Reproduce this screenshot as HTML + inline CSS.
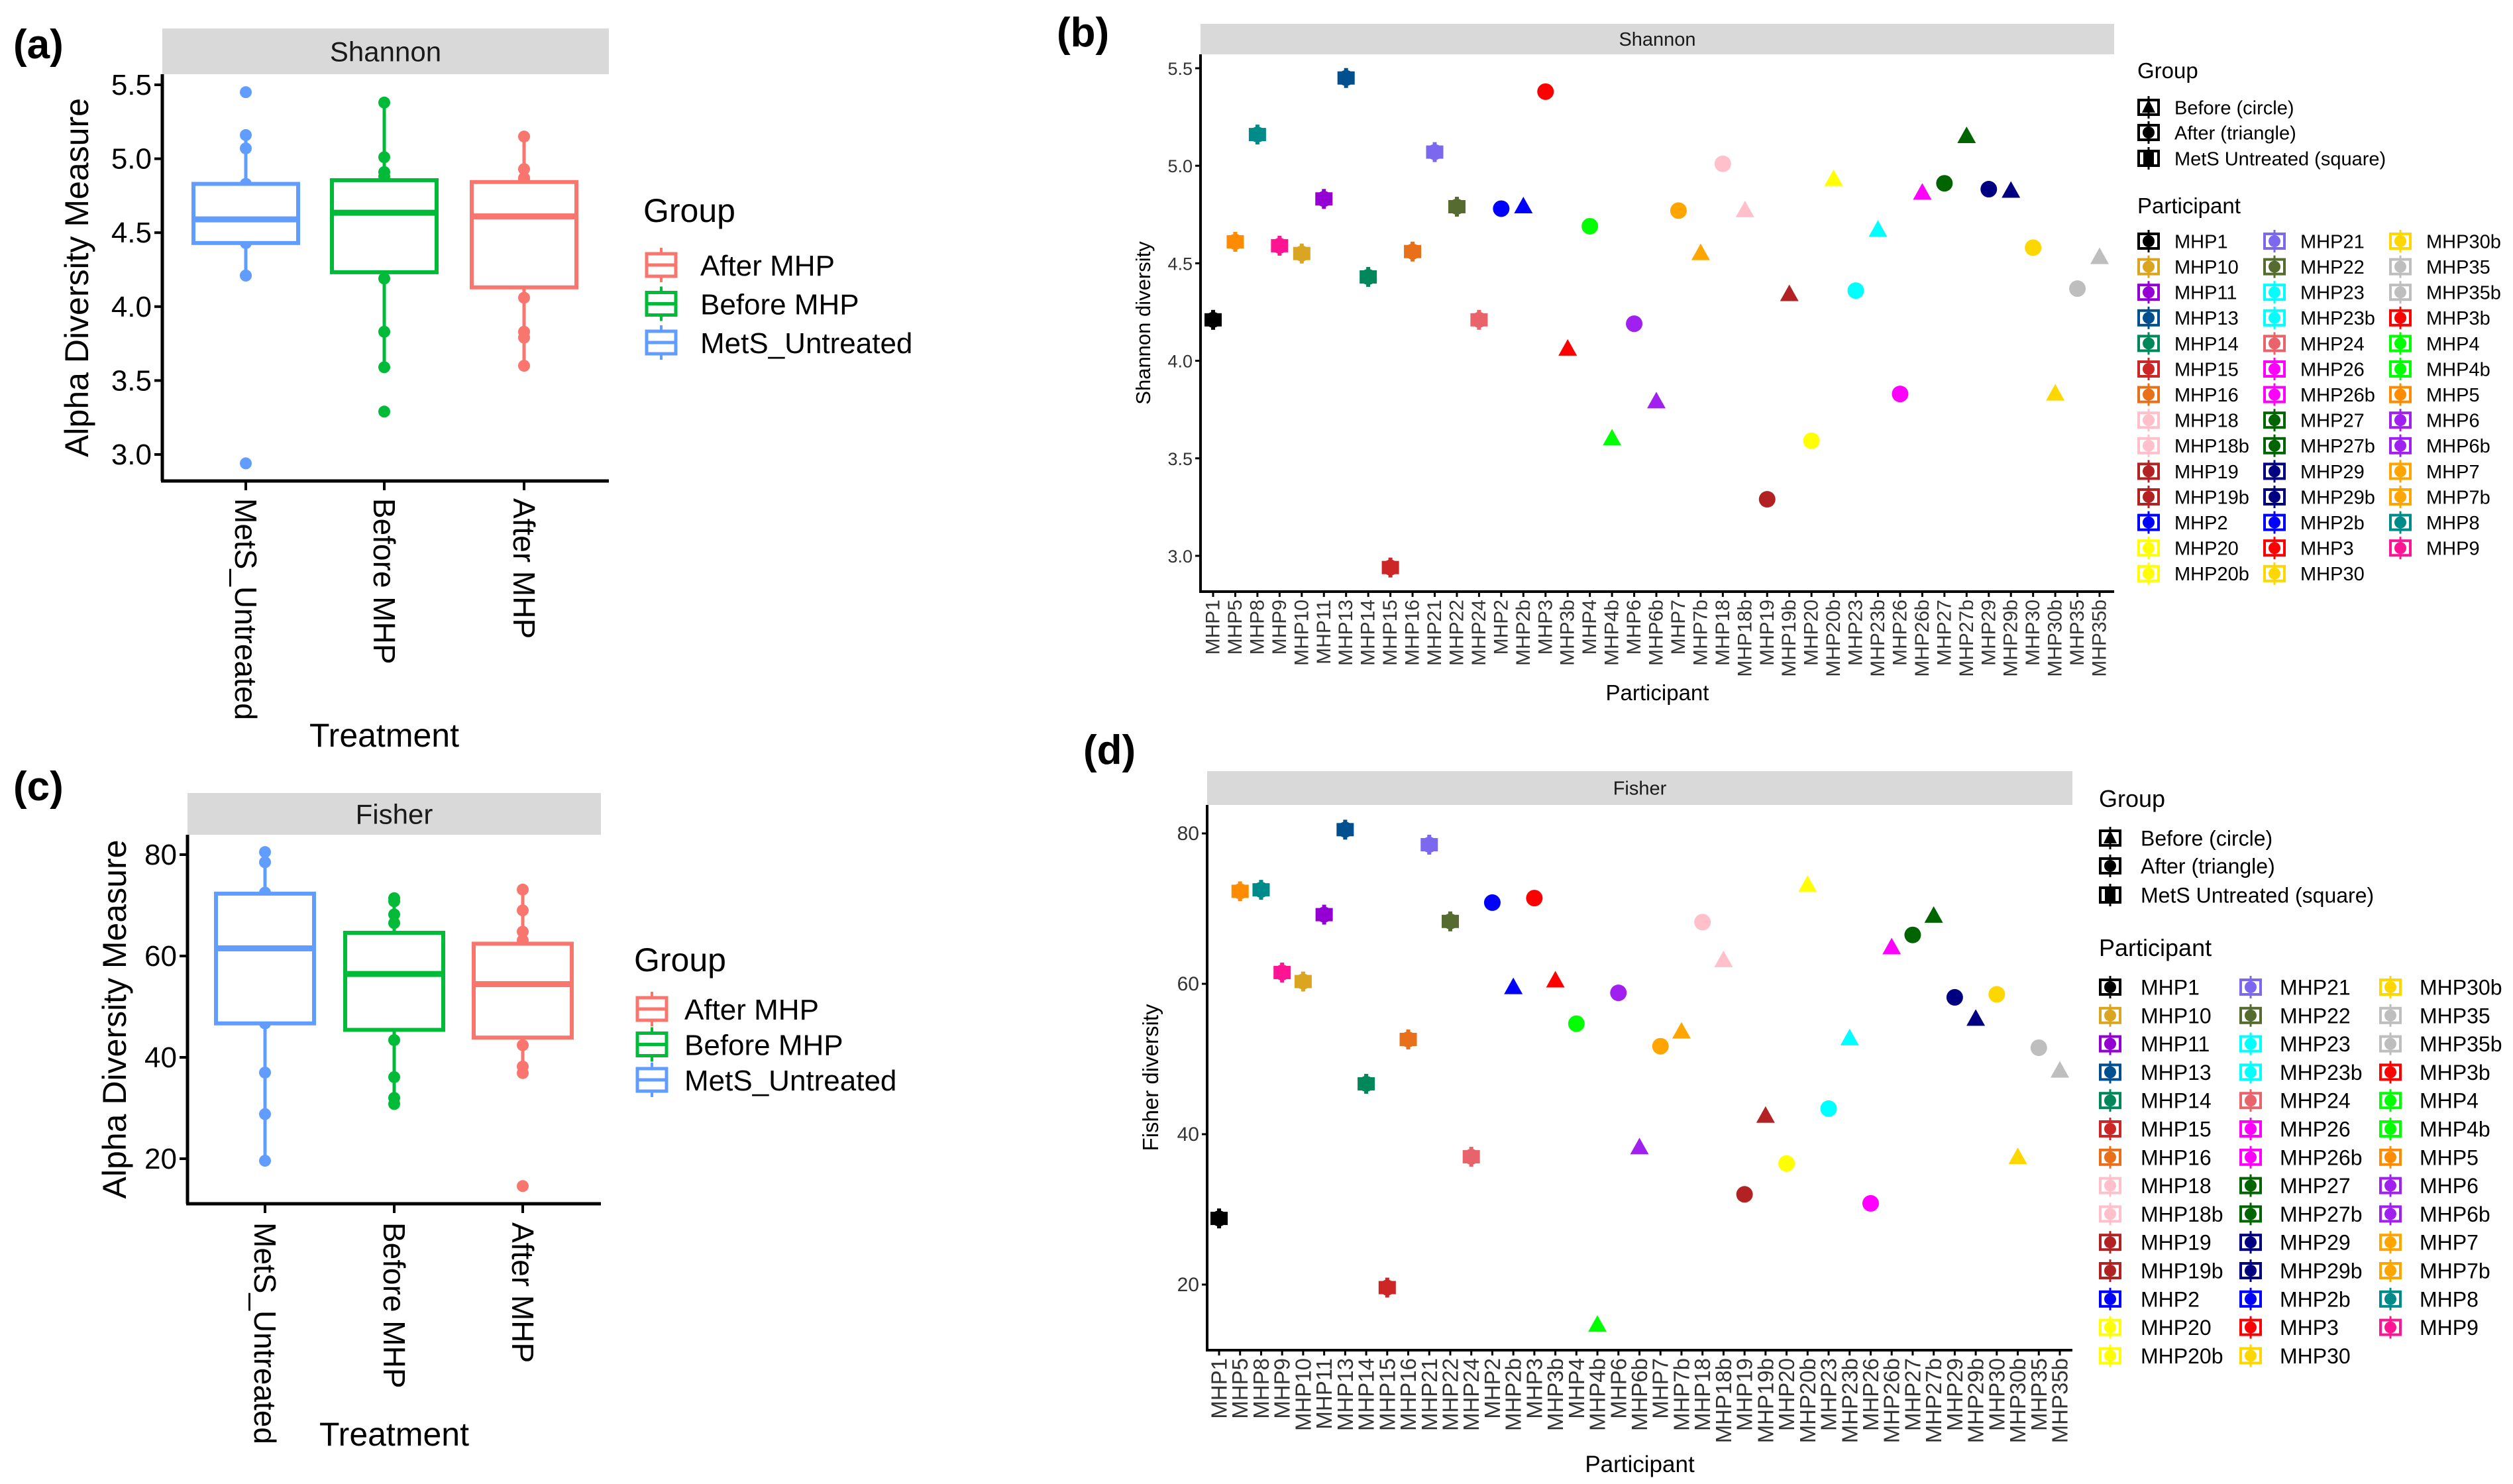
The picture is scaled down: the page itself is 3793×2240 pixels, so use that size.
<!DOCTYPE html>
<html><head><meta charset="utf-8"><style>
html,body{margin:0;padding:0;background:#fff}
svg{display:block;font-family:"Liberation Sans",Arial,sans-serif}
</style></head><body>
<svg id="fig" xmlns="http://www.w3.org/2000/svg" width="3793" height="2240" viewBox="0 0 3793 2240">
<rect width="3793" height="2240" fill="#fff"/>
</svg>
<script>
const participants = ["MHP1","MHP5","MHP8","MHP9","MHP10","MHP11","MHP13","MHP14","MHP15","MHP16","MHP21","MHP22","MHP24","MHP2","MHP2b","MHP3","MHP3b","MHP4","MHP4b","MHP6","MHP6b","MHP7","MHP7b","MHP18","MHP18b","MHP19","MHP19b","MHP20","MHP20b","MHP23","MHP23b","MHP26","MHP26b","MHP27","MHP27b","MHP29","MHP29b","MHP30","MHP30b","MHP35","MHP35b"];
const shannonValues = [4.21,4.61,5.16,4.59,4.55,4.83,5.45,4.43,2.94,4.56,5.07,4.79,4.21,4.78,4.79,5.38,4.06,4.69,3.60,4.19,3.79,4.77,4.55,5.01,4.77,3.29,4.34,3.59,4.93,4.36,4.67,3.83,4.86,4.91,5.15,4.88,4.87,4.58,3.83,4.37,4.53];
const fisherValues = [28.8,72.3,72.5,61.5,60.3,69.2,80.5,46.7,19.6,52.6,78.5,68.3,37.0,70.8,59.5,71.4,60.4,54.7,14.6,58.8,38.2,51.7,53.6,68.2,63.1,32.0,42.4,36.1,73.1,43.4,52.7,30.8,64.8,66.5,69.0,58.2,55.3,58.6,36.9,51.5,48.4];
const untreatedIds = ["MHP1","MHP5","MHP8","MHP9","MHP10","MHP11","MHP13","MHP14","MHP15","MHP16","MHP21","MHP22","MHP24"];
const boxCategories = ["MetS_Untreated","Before MHP","After MHP"];
const shannonTicks = [3.0,3.5,4.0,4.5,5.0,5.5];
const fisherTicks = [20,40,60,80];
const groupLegendLabels = ["After MHP","Before MHP","MetS_Untreated"];
const shapeLegendLabels = ["Before (circle)","After (triangle)","MetS Untreated (square)"];

const pColors = {MHP1:"#000000",MHP10:"#DAA520",MHP11:"#9400D3",MHP13:"#00508F",MHP14:"#00875A",MHP15:"#CD2626",MHP16:"#E8701A",MHP18:"#FFC0CB",MHP18b:"#FFC0CB",MHP19:"#B22222",MHP19b:"#B22222",MHP2:"#0000FF",MHP20:"#FFFF00",MHP20b:"#FFFF00",MHP21:"#7B68EE",MHP22:"#556B2F",MHP23:"#00FFFF",MHP23b:"#00FFFF",MHP24:"#E9636A",MHP26:"#FF00FF",MHP26b:"#FF00FF",MHP27:"#006400",MHP27b:"#006400",MHP29:"#000080",MHP29b:"#000080",MHP2b:"#0000FF",MHP3:"#FF0000",MHP30:"#FFD700",MHP30b:"#FFD700",MHP35:"#BEBEBE",MHP35b:"#BEBEBE",MHP3b:"#FF0000",MHP4:"#00FF00",MHP4b:"#00FF00",MHP5:"#FF8C00",MHP6:"#A020F0",MHP6b:"#A020F0",MHP7:"#FFA500",MHP7b:"#FFA500",MHP8:"#008B8B",MHP9:"#FF1493"};
const boxColors = {"MetS_Untreated":"#619CFF","Before MHP":"#00BA38","After MHP":"#F8766D"};

const NS="http://www.w3.org/2000/svg";
const svg=document.getElementById('fig');
function el(tag,attrs,parent,txt){const e=document.createElementNS(NS,tag);for(const k in attrs)e.setAttribute(k,attrs[k]);if(txt!==undefined)e.textContent=txt;(parent||svg).appendChild(e);return e;}
function groupOf(p){if(untreatedIds.includes(p))return "MetS_Untreated";return p.endsWith("b")?"After MHP":"Before MHP";}
function lin(d0,d1,r0,r1){return v=>r0+(v-d0)*(r1-r0)/(d1-d0);}
function quant(arr,p){const s=[...arr].sort((a,b)=>a-b);const pos=(s.length-1)*p;const lo=Math.floor(pos),hi=Math.ceil(pos);return s[lo]+(s[hi]-s[lo])*(pos-lo);}

function marker(parent,grp,x,y,color,s){
  s=s||1;
  let m;
  if(grp==="After MHP"){
    m=el('polygon',{points:`${x},${y-15*s} ${x+14*s},${y+10*s} ${x-14*s},${y+10*s}`,fill:color},parent);
  }else if(grp==="Before MHP"){
    m=el('circle',{cx:x,cy:y,r:12.5*s,fill:color},parent);
  }else{
    const g=el('g',{},parent);
    el('rect',{x:x-13*s,y:y-10*s,width:26*s,height:20*s,fill:color},g);
    el('circle',{cx:x,cy:y,r:12*s,fill:color},g);
    el('rect',{x:x-3*s,y:y-15*s,width:6*s,height:30*s,fill:color},g);
    m=g;
  }
  return m;
}

function legendKey(parent,x,y,color,inner){
  const g=el('g',{},parent);
  el('rect',{x:x,y:y-11,width:30,height:22,fill:"none",stroke:color,'stroke-width':4},g);
  el('line',{x1:x+15,y1:y-17,x2:x+15,y2:y+17,stroke:color,'stroke-width':3},g);
  if(inner==="tri") el('polygon',{points:`${x+15},${y-12} ${x+25},${y+8} ${x+5},${y+8}`,fill:color},g);
  else if(inner==="sq") el('rect',{x:x+7,y:y-9,width:16,height:18,fill:color},g);
  else el('circle',{cx:x+15,cy:y,r:9,fill:color},g);
  return g;
}

/* ---------- Box plot panels ---------- */
function boxPanel(cfg){
  const G=el('g',{},svg);
  
  
  const y=lin(cfg.d0,cfg.d1,cfg.r0,cfg.r1);
  const lab=el('text',{x:cfg.lx,y:cfg.ly,'font-size':62,'font-weight':'bold'},G,cfg.letter);
  
  const strip=el('rect',{x:cfg.left,y:cfg.sTop,width:cfg.right-cfg.left,height:cfg.sBot-cfg.sTop,fill:"#D9D9D9"},G);
  
  el('text',{x:(cfg.left+cfg.right)/2,y:(cfg.sTop+cfg.sBot)/2+15,'font-size':42,'text-anchor':'middle',fill:'#1a1a1a'},G,cfg.strip);
  el('line',{x1:cfg.left,y1:cfg.sBot,x2:cfg.left,y2:cfg.bottom,stroke:'#000','stroke-width':5},G);
  el('line',{x1:cfg.left-2,y1:cfg.bottom,x2:cfg.right,y2:cfg.bottom,stroke:'#000','stroke-width':5},G);
  cfg.ticks.forEach(t=>{
    const yy=y(t);
    el('line',{x1:cfg.left-12,y1:yy,x2:cfg.left,y2:yy,stroke:'#000','stroke-width':4},G);
    const tl=el('text',{x:cfg.left-16,y:yy+15,'font-size':44,'text-anchor':'end',fill:'#000'},G,cfg.fmt(t));
    
  });
  const yt=el('text',{transform:`translate(${cfg.ytx},${(cfg.sBot+cfg.bottom)/2}) rotate(-90)`,'font-size':50,'text-anchor':'middle'},G,"Alpha Diversity Measure");
  
  const xt=el('text',{x:cfg.cats[1],y:cfg.xtY,'font-size':50,'text-anchor':'middle'},G,"Treatment");
  
  boxCategories.forEach((c,i)=>{
    const cx=cfg.cats[i], col=boxColors[c];
    const vals=participants.map((p,j)=>groupOf(p)===c?cfg.values[j]:null).filter(v=>v!==null);
    const q1=quant(vals,.25),med=quant(vals,.5),q3=quant(vals,.75),iqr=q3-q1;
    const lo=Math.min(...vals.filter(v=>v>=q1-1.5*iqr)),hi=Math.max(...vals.filter(v=>v<=q3+1.5*iqr));
    el('line',{x1:cx,y1:cfg.bottom,x2:cx,y2:cfg.bottom+14,stroke:'#000','stroke-width':4},G);
    const xl=el('text',{transform:`translate(${cx},${cfg.xlY}) rotate(90)`,'font-size':46,'dominant-baseline':'central'},G,c);
    
    const bg=el('g',{},G);
    
    
    vals.forEach(v=>{const pt=el('circle',{cx:cx,cy:y(v),r:9,fill:col},bg);
      });
    el('line',{x1:cx,y1:y(hi),x2:cx,y2:y(q3),stroke:col,'stroke-width':5},bg);
    el('line',{x1:cx,y1:y(q1),x2:cx,y2:y(lo),stroke:col,'stroke-width':5},bg);
    el('rect',{x:cx-cfg.hw,y:y(q3),width:2*cfg.hw,height:y(q1)-y(q3),fill:'#fff',stroke:col,'stroke-width':6},bg);
    el('line',{x1:cx-cfg.hw,y1:y(med),x2:cx+cfg.hw,y2:y(med),stroke:col,'stroke-width':9},bg);
  });
  const L=el('g',{},G);
  
  el('text',{x:cfg.lgx,y:cfg.lgy,'font-size':50},L,"Group");
  groupLegendLabels.forEach((g,i)=>{
    const yy=cfg.lgy0+i*cfg.lgStep, col=boxColors[g], kx=cfg.lgx+5;
    const e=el('g',{},L);
    
    el('line',{x1:kx+22,y1:yy-26,x2:kx+22,y2:yy+26,stroke:col,'stroke-width':4},e);
    el('rect',{x:kx,y:yy-17,width:44,height:34,fill:'#fff',stroke:col,'stroke-width':5},e);
    el('line',{x1:kx,y1:yy,x2:kx+44,y2:yy,stroke:col,'stroke-width':5},e);
    el('text',{x:cfg.lgtx,y:yy+16,'font-size':44},e,g);
  });
}
boxPanel({name:'panel-a-shannon-boxplot',letter:'(a)',lx:20,ly:88,left:245,right:919,sTop:43,sBot:112,bottom:726,
  d0:3.0,d1:5.5,r0:686,r1:128,ticks:shannonTicks,fmt:t=>t.toFixed(1),strip:'Shannon',values:shannonValues,
  cats:[371,580,791],hw:79,ytx:133,xtY:1127,xlY:752,lgx:971,lgy:335,lgy0:400,lgStep:58.5,lgtx:1057});
boxPanel({name:'panel-c-fisher-boxplot',letter:'(c)',lx:20,ly:1208,left:283,right:907,sTop:1197,sBot:1260,bottom:1817,
  d0:20,d1:80,r0:1749,r1:1290,ticks:fisherTicks,fmt:t=>String(t),strip:'Fisher',values:fisherValues,
  cats:[400,595,789],hw:74,ytx:190,xtY:2182,xlY:1845,lgx:957,lgy:1466,lgy0:1523,lgStep:53.5,lgtx:1033});

/* ---------- Scatter panels ---------- */
function scatterPanel(cfg){
  const G=el('g',{},svg);
  
  
  const y=lin(cfg.d0,cfg.d1,cfg.r0,cfg.r1);
  const x=i=>cfg.x0+i*(cfg.x1-cfg.x0)/(participants.length-1);
  const lab=el('text',{x:cfg.lx,y:cfg.ly,'font-size':62,'font-weight':'bold'},G,cfg.letter);
  
  const strip=el('rect',{x:cfg.left,y:cfg.sTop,width:cfg.right-cfg.left,height:cfg.sBot-cfg.sTop,fill:"#D9D9D9"},G);
  
  el('text',{x:(cfg.left+cfg.right)/2,y:(cfg.sTop+cfg.sBot)/2+10,'font-size':29,'text-anchor':'middle',fill:'#1a1a1a'},G,cfg.strip);
  el('line',{x1:cfg.left,y1:cfg.sBot,x2:cfg.left,y2:cfg.bottom,stroke:'#000','stroke-width':4},G);
  el('line',{x1:cfg.left-2,y1:cfg.bottom,x2:cfg.right,y2:cfg.bottom,stroke:'#000','stroke-width':4},G);
  cfg.ticks.forEach(t=>{
    const yy=y(t);
    el('line',{x1:cfg.left-8,y1:yy,x2:cfg.left,y2:yy,stroke:'#000','stroke-width':3},G);
    const tl=el('text',{x:cfg.left-12,y:yy+10,'font-size':cfg.tfs,'text-anchor':'end',fill:'#333'},G,cfg.fmt(t));
    
  });
  const yt=el('text',{transform:`translate(${cfg.ytx},${(cfg.sBot+cfg.bottom)/2}) rotate(-90)`,'font-size':cfg.afs,'text-anchor':'middle'},G,cfg.ytitle);
  
  const xt=el('text',{x:(cfg.left+cfg.right)/2,y:cfg.xtY,'font-size':cfg.afs+2,'text-anchor':'middle'},G,"Participant");
  
  participants.forEach((p,i)=>{
    const xx=x(i);
    el('line',{x1:xx,y1:cfg.bottom,x2:xx,y2:cfg.bottom+8,stroke:'#000','stroke-width':3},G);
    const xl=el('text',{transform:`translate(${xx},${cfg.bottom+12}) rotate(-90)`,'font-size':cfg.xfs,'text-anchor':'end','dominant-baseline':'central',fill:'#333'},G,p);
    
    const m=marker(G,groupOf(p),xx,y(cfg.values[i]),pColors[p]);
    
    
  });
  const L=el('g',{},G);
  
  el('text',{x:cfg.lgx,y:cfg.gTitleY,'font-size':cfg.lfs+4},L,"Group");
  const inn=["tri","circ","sq"];
  shapeLegendLabels.forEach((s,i)=>{
    const yy=cfg.gy[i];
    const e=el('g',{},L);
    
    legendKey(e,cfg.lgx+2,yy,'#000',inn[i]);
    el('text',{x:cfg.ltx[0],y:yy+cfg.lfs*0.36,'font-size':cfg.lfs},e,s);
  });
  const P=el('g',{},G);
  
  el('text',{x:cfg.lgx,y:cfg.pTitleY,'font-size':cfg.lfs+4},P,"Participant");
  const sorted=[...participants].sort();
  sorted.forEach((p,k)=>{
    const col=Math.floor(k/14),row=k%14,yy=cfg.row0+row*cfg.rowStep;
    const e=el('g',{},P);
    
    legendKey(e,cfg.kx[col],yy,pColors[p],"circ");
    el('text',{x:cfg.ltx[col],y:yy+cfg.lfs*0.36,'font-size':cfg.lfs},e,p);
  });
}
scatterPanel({name:'panel-b-shannon-scatter',letter:'(b)',lx:1595,ly:70,left:1812,right:3191,sTop:36,sBot:82,bottom:893,
  d0:3.0,d1:5.5,r0:839,r1:103,ticks:shannonTicks,fmt:t=>t.toFixed(1),strip:'Shannon',values:shannonValues,
  x0:1831,x1:3169,tfs:27,xfs:30,afs:31,ytx:1736,ytitle:'Shannon diversity',xtY:1057,
  lgx:3226,gTitleY:118,gy:[162,200,239],pTitleY:322,row0:364,rowStep:38.6,kx:[3228,3418,3608],ltx:[3282,3472,3662],lfs:29});
scatterPanel({name:'panel-d-fisher-scatter',letter:'(d)',lx:1635,ly:1153,left:1822,right:3128,sTop:1164,sBot:1215,bottom:2038,
  d0:20,d1:80,r0:1939,r1:1258,ticks:fisherTicks,fmt:t=>String(t),strip:'Fisher',values:fisherValues,
  x0:1840,x1:3109,tfs:30,xfs:33,afs:33,ytx:1748,ytitle:'Fisher diversity',xtY:2222,
  lgx:3168,gTitleY:1218,gy:[1265,1307,1351],pTitleY:1443,row0:1490,rowStep:42.8,kx:[3170,3382,3593],ltx:[3231,3441,3652],lfs:32});
</script>
</body></html>
